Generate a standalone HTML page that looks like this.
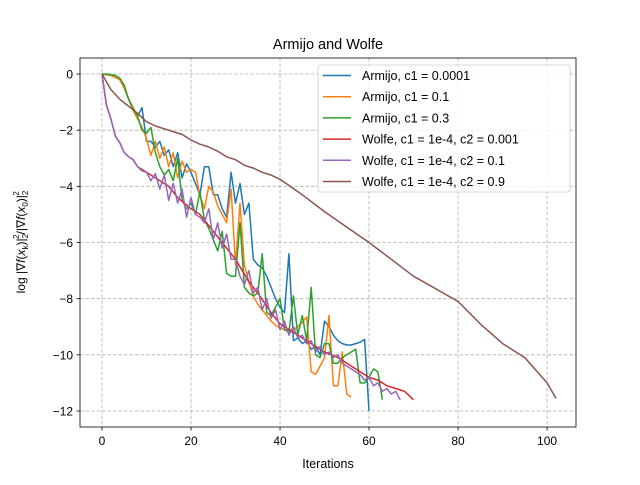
<!DOCTYPE html>
<html><head><meta charset="utf-8"><style>
body{margin:0;background:#fff}
svg text{font-family:"Liberation Sans","DejaVu Sans",sans-serif}
</style></head><body>
<svg id="chart" width="640" height="480" xmlns="http://www.w3.org/2000/svg">
<rect width="640" height="480" fill="#fff"/>
<text x="328" y="49" font-size="14.5" text-anchor="middle">Armijo and Wolfe</text>
<text x="328" y="468" font-size="12.5" text-anchor="middle">Iterations</text>
<text transform="translate(25,242) rotate(-90)" font-size="12" text-anchor="middle">log |∇<tspan font-style="italic">f</tspan>(<tspan font-style="italic">x</tspan><tspan font-size="8" dy="3">k</tspan><tspan dy="-3">)|</tspan><tspan font-size="8" dy="3">2</tspan><tspan font-size="8" dx="-5" dy="-9">2</tspan><tspan dy="6">/|∇</tspan><tspan font-style="italic">f</tspan>(<tspan font-style="italic">x</tspan><tspan font-size="8" dy="3">0</tspan><tspan dy="-3">)|</tspan><tspan font-size="8" dy="3">2</tspan><tspan font-size="8" dx="-5" dy="-9">2</tspan></text>
<g id="grid"></g><g id="series"></g><g id="axes"></g><g id="legend"></g>
</svg>
<script>
const xTicks=[0,20,40,60,80,100];
const yTicks=[0,-2,-4,-6,-8,-10,-12];
const seriesNames=["Armijo, c1 = 0.0001","Armijo, c1 = 0.1","Armijo, c1 = 0.3","Wolfe, c1 = 1e-4, c2 = 0.001","Wolfe, c1 = 1e-4, c2 = 0.1","Wolfe, c1 = 1e-4, c2 = 0.9"];
const colors=["#1f77b4","#ff7f0e","#2ca02c","#d62728","#9467bd","#8c564b"];
const blueX=[0,2,4,5,6,7,8,9,10,11,12,13,14,15,16,17,18,19,20,21,22,23,24,25,26,27,28,29,30,31,32,33,34,35,36,37,38,39,40,41,42,43,44,45,46,47,48,49,50,51,52,53,54,55,56,57,58,59,60];
const blueY=[0,-0.05,-0.2,-0.5,-0.9,-1.3,-1.5,-1.2,-2.4,-2.4,-2.6,-2.4,-2.9,-2.7,-3.3,-2.8,-3.7,-3.2,-3.5,-3.9,-4.3,-3.3,-3.3,-4.3,-4.3,-4.8,-5.1,-3.5,-4.6,-3.9,-5.0,-4.6,-6.6,-6.8,-6.9,-7.2,-7.6,-8.0,-8.3,-8.5,-6.4,-9.5,-9.4,-9.6,-9.5,-9.8,-9.7,-10.0,-8.8,-9.0,-9.3,-9.5,-9.6,-9.65,-9.65,-9.6,-9.55,-9.45,-12.0];
const orangeX=[0,2,4,5,6,7,8,9,10,11,12,13,14,15,16,17,18,19,20,21,22,23,24,25,26,27,28,29,30,31,32,33,34,35,36,37,38,39,40,41,42,43,44,45,46,47,48,49,50,51,52,53,54,55,56];
const orangeY=[0,-0.05,-0.2,-0.5,-0.9,-1.3,-1.6,-1.9,-2.3,-2.9,-2.4,-3.0,-2.6,-3.3,-2.8,-3.7,-3.1,-3.5,-3.4,-3.5,-4.3,-4.8,-4.0,-4.2,-4.7,-5.0,-5.3,-4.1,-6.8,-4.6,-6.8,-7.4,-7.9,-8.2,-8.4,-8.6,-8.8,-8.95,-9.05,-9.1,-9.1,-9.1,-9.0,-8.85,-8.65,-10.6,-10.7,-10.4,-10.1,-8.6,-11.1,-11.1,-9.9,-11.4,-11.5];
const greenX=[0,1,2,3,4,5,6,7,8,9,10,11,12,13,14,15,16,17,18,19,20,21,22,23,24,25,26,27,28,29,30,31,32,33,34,35,36,37,38,39,40,41,42,43,44,45,46,47,48,49,50,51,52,53,54,55,56,57,58,59,60,61,62,63];
const greenY=[0,0,-0.02,-0.05,-0.15,-0.4,-0.9,-1.2,-1.5,-2.0,-2.1,-1.9,-2.8,-3.3,-3.6,-3.4,-3.8,-3.0,-4.5,-4.8,-4.6,-5.0,-4.2,-5.2,-5.5,-5.9,-6.3,-5.6,-7.1,-7.2,-7.2,-5.3,-7.6,-7.8,-7.9,-7.8,-6.4,-8.5,-8.6,-8.3,-8.0,-9.1,-9.2,-7.9,-9.3,-8.6,-9.5,-7.6,-10.0,-10.1,-9.6,-9.6,-10.3,-10.3,-10.1,-10.0,-9.9,-9.8,-11.0,-11.0,-10.8,-10.5,-10.6,-11.6];
const redX=[0,1,2,3,4,5,6,7,8,9,10,12,15,17,20,22,25,28,30,33,35,38,40,43,45,48,50,53,55,58,60,62,64,66,68,70];
const redY=[0,-1.1,-1.6,-2.2,-2.45,-2.8,-2.95,-3.05,-3.3,-3.4,-3.5,-3.7,-4.0,-4.4,-4.8,-5.0,-5.6,-6.2,-6.6,-7.4,-7.8,-8.5,-8.9,-9.2,-9.4,-9.7,-9.9,-10.1,-10.3,-10.6,-10.8,-10.9,-11.1,-11.2,-11.3,-11.6];
const purpleX=[0,1,2,3,4,5,6,7,8,9,10,11,12,13,14,15,16,17,18,19,20,21,22,23,24,25,26,27,28,29,30,31,32,33,34,35,36,37,38,39,40,41,42,43,44,45,46,47,48,49,50,51,52,53,54,55,56,57,58,59,60,61,62,63,64,65,66,67];
const purpleY=[0,-1.1,-1.6,-2.2,-2.45,-2.8,-2.95,-3.05,-3.3,-3.45,-3.5,-3.8,-3.55,-4.1,-3.6,-4.5,-3.9,-4.6,-4.1,-5.1,-4.4,-5.0,-5.1,-5.3,-4.8,-5.9,-5.3,-6.2,-5.7,-6.6,-6.6,-7.2,-7.5,-7.0,-7.8,-7.6,-8.4,-8.0,-8.7,-8.4,-9.1,-8.8,-9.3,-9.0,-9.4,-9.3,-9.6,-9.5,-9.9,-9.7,-10.0,-9.9,-10.1,-10.0,-10.3,-10.4,-10.5,-10.6,-10.7,-10.9,-10.8,-11.1,-11.0,-11.3,-11.2,-11.4,-11.3,-11.6];
const brownX=[0,2,4,6,8,10,12,14,16,18,20,22,24,26,28,30,32,34,36,38,40,45,50,55,60,65,70,75,80,85,90,95,100,102];
const brownY=[0,-0.55,-0.9,-1.15,-1.4,-1.7,-1.85,-1.95,-2.05,-2.15,-2.35,-2.5,-2.6,-2.75,-2.95,-3.05,-3.25,-3.35,-3.5,-3.6,-3.75,-4.3,-4.9,-5.45,-6.0,-6.6,-7.2,-7.65,-8.1,-8.9,-9.6,-10.1,-11.0,-11.55];

const L=80,R=576,T=58,B=427;
const xMin=-4.94,xMax=106.5,yMin=-12.57,yMax=0.57;
const sx=v=>L+(v-xMin)/(xMax-xMin)*(R-L);
const sy=v=>B-(v-yMin)/(yMax-yMin)*(B-T);
const NS="http://www.w3.org/2000/svg";
function mk(tag,attrs,parent){const e=document.createElementNS(NS,tag);for(const k in attrs)e.setAttribute(k,attrs[k]);parent.appendChild(e);return e;}
const grid=document.getElementById('grid'),axes=document.getElementById('axes'),ser=document.getElementById('series'),leg=document.getElementById('legend');
xTicks.forEach(t=>{
  const g=mk('line',{x1:sx(t),x2:sx(t),y1:T,y2:B,stroke:'#b0b0b0','stroke-width':0.8,'stroke-dasharray':'3.5,2'},grid);
  
  
  mk('line',{x1:sx(t),x2:sx(t),y1:B,y2:B+3.5,stroke:'#000','stroke-width':0.8},axes);
  const tx=mk('text',{x:sx(t),y:B+18,'font-size':12,'text-anchor':'middle'},axes);
  
  
  tx.textContent=t;
});
yTicks.forEach(t=>{
  const g=mk('line',{x1:L,x2:R,y1:sy(t),y2:sy(t),stroke:'#b0b0b0','stroke-width':0.8,'stroke-dasharray':'3.5,2'},grid);
  
  
  mk('line',{x1:L-3.5,x2:L,y1:sy(t),y2:sy(t),stroke:'#000','stroke-width':0.8},axes);
  const tx=mk('text',{x:L-7,y:sy(t)+4.5,'font-size':12,'text-anchor':'end'},axes);
  
  
  tx.textContent=(t<0?'\u2212'+(-t):t);
});
const frame=mk('rect',{x:L,y:T,width:R-L,height:B-T,fill:'none',stroke:'#000','stroke-width':0.8},axes);


const data=[[blueX,blueY],[orangeX,orangeY],[greenX,greenY],[redX,redY],[purpleX,purpleY],[brownX,brownY]];
const snames=['armijo-0.0001-line','armijo-0.1-line','armijo-0.3-line','wolfe-c2-0.001-line','wolfe-c2-0.1-line','wolfe-c2-0.9-line'];
data.forEach((d,i)=>{
  const pts=d[0].map((x,j)=>sx(x).toFixed(1)+','+sy(d[1][j]).toFixed(1)).join(' ');
  const p=mk('polyline',{points:pts,fill:'none',stroke:colors[i],'stroke-width':1.5,'stroke-linejoin':'round'},ser);
  
  
});
const box=mk('rect',{x:318,y:65,width:252,height:127,rx:3,fill:'#fff','fill-opacity':0.8,stroke:'#ccc','stroke-width':0.8},leg);


seriesNames.forEach((n,i)=>{
  const y=75.5+i*21.2;
  const ln=mk('line',{x1:323,x2:351,y1:y,y2:y,stroke:colors[i],'stroke-width':1.5},leg);
  
  
  const tx=mk('text',{x:362,y:y+4.5,'font-size':12.5},leg);
  
  
  tx.textContent=n;
});
</script>
</body></html>
